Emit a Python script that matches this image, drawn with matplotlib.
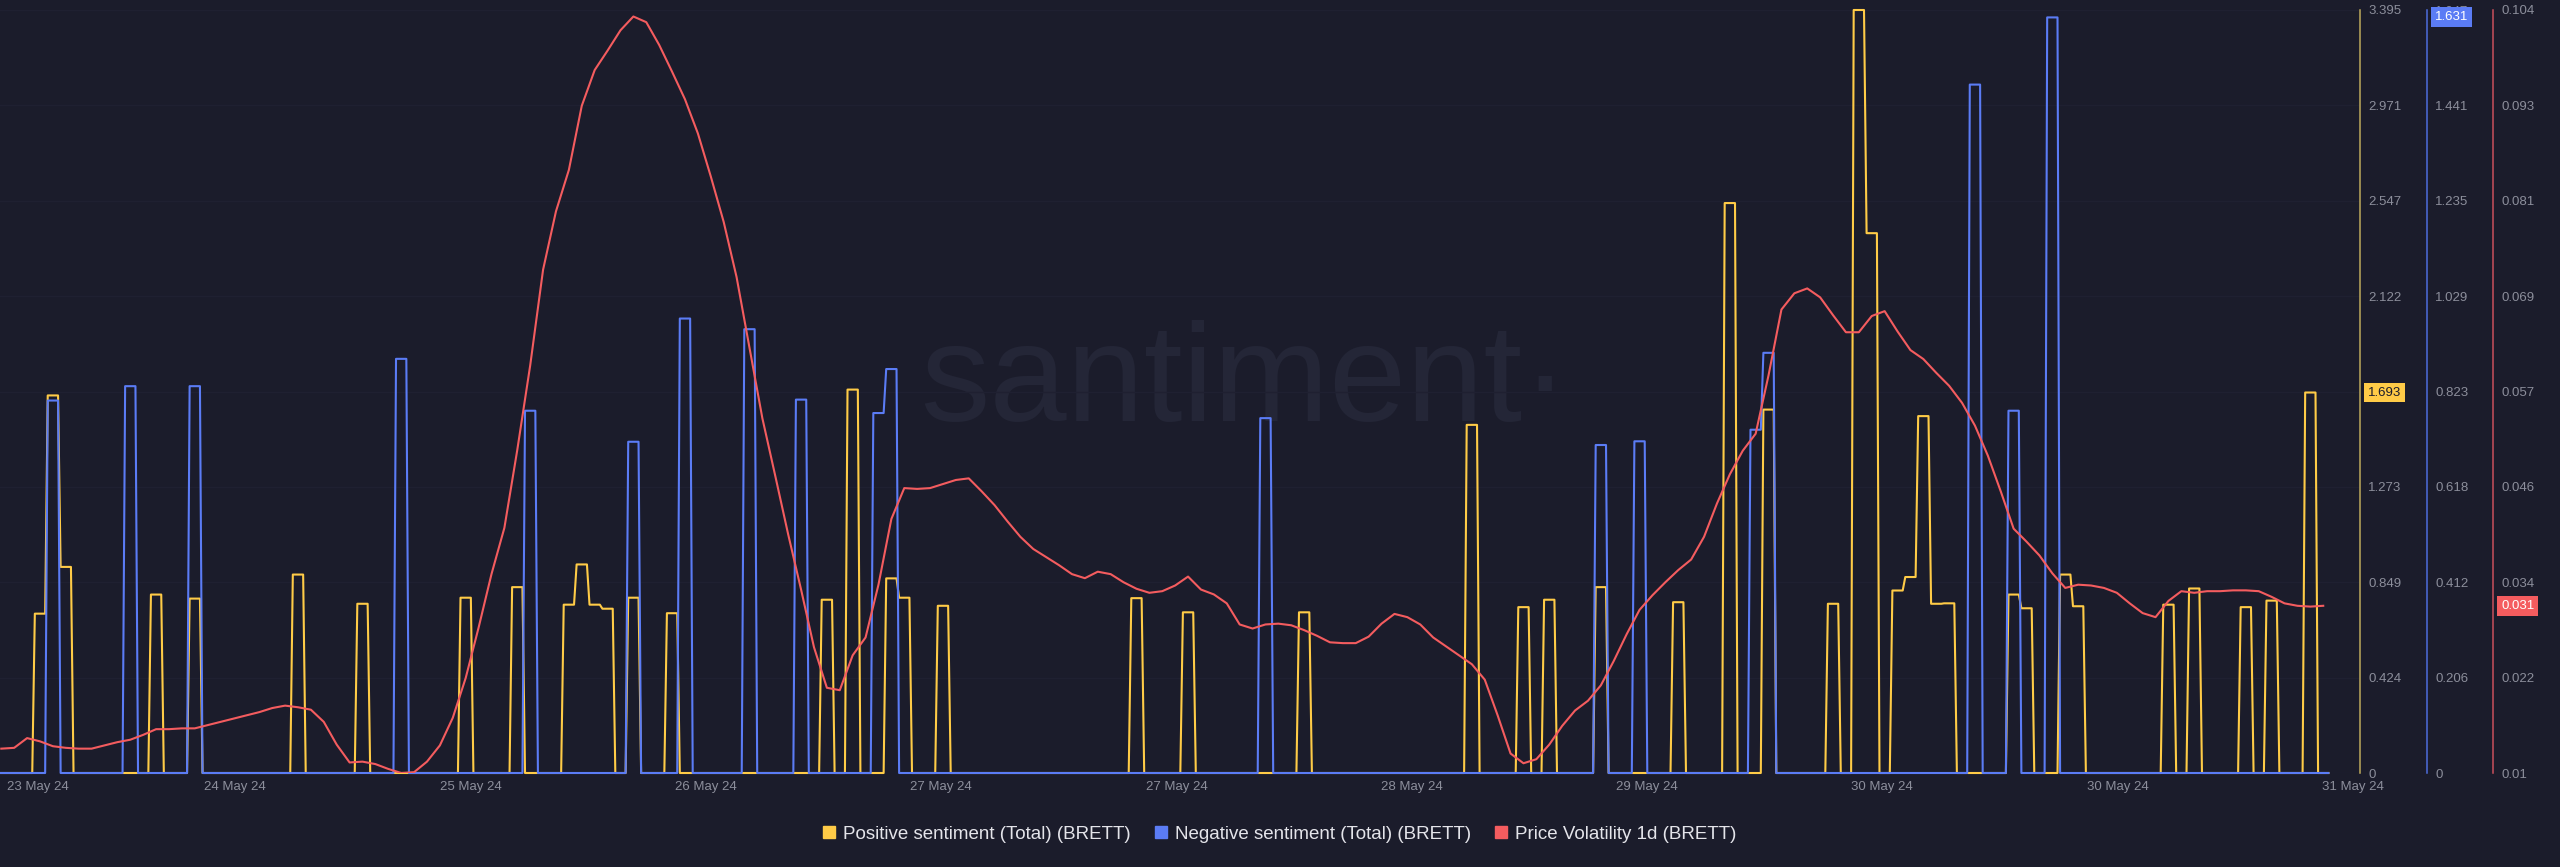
import numpy as np
import matplotlib
matplotlib.use('Agg')
import matplotlib.pyplot as plt
from matplotlib.lines import Line2D
from matplotlib.transforms import ScaledTranslation

plt.rcParams['font.family'] = ['Liberation Sans', 'DejaVu Sans']

# hourly data, hour 0 = first point of the window
n_hours = 181

pos_hours = [3, 4, 5, 12, 15, 23, 28, 36, 40, 44, 45, 46, 47, 49, 52, 64, 66, 69, 70, 73,
             88, 92, 101, 114, 118, 120, 124, 130, 134, 137, 142, 144, 145, 147, 148, 149,
             150, 151, 156, 157, 160, 161, 168, 170, 174, 176, 179]
pos_values = [0.709, 1.680, 0.917, 0.794, 0.776, 0.883, 0.753, 0.780, 0.827, 0.749, 0.928,
              0.749, 0.731, 0.780, 0.711, 0.771, 1.706, 0.866, 0.780, 0.744, 0.778, 0.715,
              0.715, 1.549, 0.738, 0.771, 0.827, 0.760, 2.536, 1.617, 0.753, 3.395, 2.402,
              0.812, 0.872, 1.588, 0.753, 0.755, 0.794, 0.733, 0.883, 0.742, 0.749, 0.821,
              0.738, 0.767, 1.693]

neg_hours = [4, 10, 15, 31, 41, 49, 53, 58, 62, 68, 69, 98, 124, 127, 136, 137, 153, 156, 159]
neg_values = [0.804, 0.835, 0.835, 0.894, 0.782, 0.715, 0.981, 0.958, 0.806, 0.777, 0.872,
              0.766, 0.708, 0.716, 0.741, 0.907, 1.486, 0.782, 1.631]

volatility = [
    0.0130, 0.0131, 0.0143, 0.0139, 0.0133, 0.0131, 0.0130, 0.0130, 0.0134, 0.0138,
    0.0141, 0.0147, 0.0154, 0.0154, 0.0155, 0.0155, 0.0159, 0.0163, 0.0167, 0.0171,
    0.0175, 0.0180, 0.0183, 0.0181, 0.0178, 0.0163, 0.0135, 0.0113, 0.0114, 0.0111,
    0.0105, 0.0100, 0.0101, 0.0114, 0.0134, 0.0168, 0.0217, 0.0279, 0.0345, 0.0402,
    0.0498, 0.0602, 0.0720, 0.0792, 0.0843, 0.0922, 0.0966, 0.0990, 0.1015, 0.1032,
    0.1025, 0.0997, 0.0964, 0.0930, 0.0888, 0.0835, 0.0779, 0.0711, 0.0624, 0.0537,
    0.0466, 0.0394, 0.0326, 0.0255, 0.0205, 0.0202, 0.0245, 0.0267, 0.0332, 0.0413,
    0.0451, 0.0450, 0.0451, 0.0456, 0.0461, 0.0463, 0.0447, 0.0430, 0.0410, 0.0391,
    0.0376, 0.0366, 0.0356, 0.0345, 0.0340, 0.0348, 0.0345, 0.0335, 0.0327, 0.0322,
    0.0324, 0.0331, 0.0342, 0.0326, 0.0320, 0.0309, 0.0283, 0.0278, 0.0283, 0.0284,
    0.0282, 0.0276, 0.0269, 0.0261, 0.0260, 0.0260, 0.0268, 0.0284, 0.0296, 0.0292,
    0.0283, 0.0267, 0.0256, 0.0245, 0.0234, 0.0215, 0.0171, 0.0124, 0.0112, 0.0117,
    0.0135, 0.0158, 0.0177, 0.0189, 0.0208, 0.0238, 0.0271, 0.0301, 0.0319, 0.0335,
    0.0350, 0.0363, 0.0391, 0.0432, 0.0468, 0.0497, 0.0518, 0.0590, 0.0671, 0.0691,
    0.0697, 0.0686, 0.0664, 0.0643, 0.0643, 0.0663, 0.0669, 0.0644, 0.0621, 0.0610,
    0.0593, 0.0577, 0.0556, 0.0528, 0.0491, 0.0447, 0.0401, 0.0385, 0.0368, 0.0346,
    0.0328, 0.0332, 0.0331, 0.0328, 0.0322, 0.0309, 0.0297, 0.0292, 0.0312, 0.0324,
    0.0322, 0.0324, 0.0324, 0.0325, 0.0325, 0.0324, 0.0317, 0.0309, 0.0306, 0.0305,
    0.0306,
]

date_labels = ['23 May 24', '24 May 24', '25 May 24', '26 May 24', '27 May 24', '27 May 24',
               '28 May 24', '29 May 24', '30 May 24', '30 May 24', '31 May 24']
pos_tick_labels = ['0', '0.424', '0.849', '1.273', '1.697', '2.122', '2.547', '2.971', '3.395']
neg_tick_labels = ['0', '0.206', '0.412', '0.618', '0.823', '1.029', '1.235', '1.441', '1.647']
vol_tick_labels = ['0.01', '0.022', '0.034', '0.046', '0.057', '0.069', '0.081', '0.093', '0.104']
pos_lim = (0, 3.395)
neg_lim = (0, 1.647)
vol_lim = (0.01, 0.104)

legend_names = ['Positive sentiment (Total) (BRETT)', 'Negative sentiment (Total) (BRETT)',
                'Price Volatility 1d (BRETT)']

bg = '#1b1c2b'
yellow = '#ffcb47'
blue = '#5b7cf5'
red = '#f45c5f'
tick_col = '#8c8e9b'


def spike_line(hours, values):
    # each hourly value is held flat for most of the hour
    v = np.zeros(n_hours)
    v[hours] = values
    h = np.arange(n_hours)
    xs = np.column_stack([h - 0.4, h + 0.4]).ravel()
    return xs, np.repeat(v, 2)


fig = plt.figure(figsize=(25.6, 8.67), dpi=100, facecolor=bg)
ax = fig.add_axes([0, 1 - 773 / 867, 2360 / 2560, 763 / 867])
ax.set_facecolor(bg)
ax_b = ax.twinx()
ax_r = ax.twinx()

x_lim = (-0.1, 182.85)
for a in (ax, ax_b, ax_r):
    a.set_xlim(*x_lim)
    for s in ('left', 'top', 'bottom'):
        a.spines[s].set_visible(False)

# watermark
ax.text(0.486, 1 - 421 / 867, 'santiment\u00b7', transform=fig.transFigure, ha='center',
        va='baseline', fontsize=100, color='#242637', zorder=0.5)

xs, ys = spike_line(pos_hours, pos_values)
ax.plot(xs, ys, color=yellow, lw=1.5, clip_on=False, zorder=2)
xs, ys = spike_line(neg_hours, neg_values)
ax_b.plot(xs, ys, color=blue, lw=1.5, clip_on=False, zorder=2)
ax_r.plot(np.arange(n_hours), volatility, color=red, lw=1.5, zorder=3)

ax.set_ylim(*pos_lim)
ax_b.set_ylim(*neg_lim)
ax_r.set_ylim(*vol_lim)

ax.yaxis.tick_right()
ax.set_yticks(np.linspace(*pos_lim, len(pos_tick_labels)), pos_tick_labels)
ax_b.set_yticks(np.linspace(*neg_lim, len(neg_tick_labels)), neg_tick_labels)
ax_r.set_yticks(np.linspace(*vol_lim, len(vol_tick_labels)), vol_tick_labels)
ax.yaxis.grid(True, color='#1f2031', lw=1)

ax_b.spines['right'].set_position(('outward', 67 * 0.72))
ax_r.spines['right'].set_position(('outward', 133 * 0.72))
for a, c in ((ax, '#bda95c'), (ax_b, '#4d6cdc'), (ax_r, '#c9505c')):
    a.spines['right'].set_color(c)
    a.spines['right'].set_linewidth(1.1)
    a.tick_params(axis='y', length=0, pad=5.8, labelsize=9.5, labelcolor=tick_col)

# date axis
ax.set_xticks(np.linspace(x_lim[0], 182.3, len(date_labels)), date_labels)
ax.tick_params(axis='x', length=0, pad=5.5, labelsize=9.5, labelcolor=tick_col)
for a in (ax_b, ax_r):
    a.tick_params(axis='x', bottom=False, labelbottom=False)
first = ax.get_xticklabels()[0]
first.set_ha('left')
first.set_transform(first.get_transform() + ScaledTranslation(0.07, 0, fig.dpi_scale_trans))

# value badges (last non-zero values)
badges = [(ax, pos_values[-1], yellow, bg), (ax_b, neg_values[-1], blue, 'white'),
          (ax_r, volatility[-1], red, 'white')]
for a, val, fc, tc in badges:
    a.annotate('%.3f' % val, xy=(1, val), xycoords=a.spines['right'].get_spine_transform(),
               xytext=(5.8, 0), textcoords='offset points', ha='left', va='center',
               fontsize=9.5, color=tc, zorder=10, annotation_clip=False,
               bbox=dict(boxstyle='square,pad=0.3', fc=fc, ec='none'))

handles = [Line2D([], [], marker='s', ls='none', color=c, markersize=8.3)
           for c in (yellow, blue, red)]
fig.legend(handles, legend_names, loc='center', bbox_to_anchor=(0.5, 1 - 834 / 867), ncol=3,
           frameon=False, fontsize=13.5, labelcolor='#e4e4ea', handlelength=0.6,
           handletextpad=0.45, columnspacing=1.3)

fig.savefig('out.png', dpi=100, facecolor=bg)
